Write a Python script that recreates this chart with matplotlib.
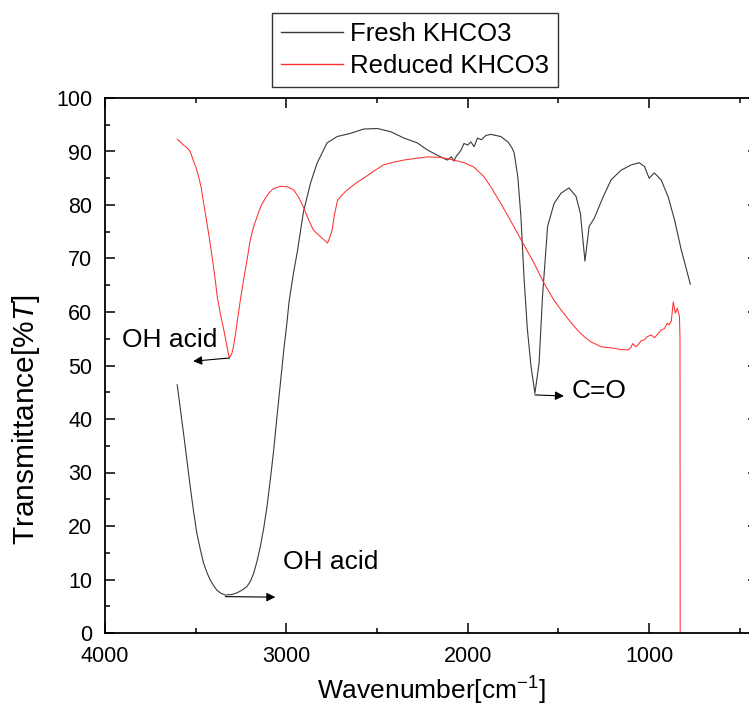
import matplotlib
matplotlib.use("Agg")
import matplotlib.pyplot as plt
from matplotlib.ticker import MultipleLocator

plt.rcParams['font.family'] = ['Liberation Sans', 'DejaVu Sans']
plt.rcParams['mathtext.fontset'] = 'custom'
plt.rcParams['mathtext.rm'] = 'Liberation Sans'
plt.rcParams['mathtext.it'] = 'Liberation Sans:italic'
plt.rcParams['mathtext.default'] = 'regular'

# FTIR spectrum of fresh KHCO3 (wavenumber in cm-1, transmittance in %T)
fresh_wn = [3602, 3585, 3567, 3548, 3530, 3512, 3494, 3475, 3457, 3438, 3420,
            3400, 3383, 3360, 3337, 3300, 3273, 3245, 3217, 3198, 3180, 3162,
            3144, 3125, 3107, 3088, 3070, 3052, 3033, 3015, 2997, 2985, 2960,
            2941, 2906, 2867, 2831, 2776, 2720, 2646, 2573, 2499, 2425, 2351,
            2278, 2223, 2168, 2113, 2090, 2077, 2062, 2049, 2035, 2021, 2000,
            1983, 1965, 1947, 1925, 1900, 1873, 1818, 1779, 1755, 1744, 1724,
            1707, 1690, 1672, 1652, 1630, 1607, 1588, 1560, 1524, 1486, 1442,
            1403, 1379, 1354, 1331, 1303, 1254, 1210, 1155, 1099, 1055, 1026,
            1000, 972, 934, 895, 860, 823, 773]
fresh_t = [46.4, 42.0, 37.3, 32.2, 27.3, 22.8, 18.7, 15.7, 13.1, 11.3, 9.9,
           8.8, 8.0, 7.4, 7.1, 7.2, 7.5, 8.0, 8.7, 9.7, 11.2, 13.4,
           16.1, 19.6, 23.6, 28.8, 34.2, 40.4, 46.7, 52.7, 58.0, 62.0, 67.5,
           71.0, 78.7, 84.1, 87.8, 91.6, 92.8, 93.4, 94.2, 94.3, 93.7, 92.5,
           91.6, 90.3, 89.3, 88.4, 89.0, 88.2, 89.2, 89.7, 90.4, 91.5, 91.2,
           91.8, 90.9, 92.5, 92.2, 93.0, 93.2, 92.8, 91.8, 90.6, 89.7, 85.2,
           77.8, 66.5, 57.0, 50.0, 44.8, 50.4, 62.9, 76.0, 80.3, 82.2, 83.2,
           81.6, 78.4, 69.5, 76.0, 77.5, 81.5, 84.7, 86.5, 87.5, 87.9, 87.2,
           85.0, 86.0, 84.7, 81.5, 77.2, 71.6, 65.2]

# FTIR spectrum of reduced KHCO3
reduced_wn = [3602, 3585, 3567, 3548, 3530, 3514, 3498, 3484, 3470, 3459, 3444,
              3429, 3415, 3402, 3390, 3381, 3363, 3346, 3330, 3315, 3300, 3292,
              3280, 3270, 3262, 3254, 3235, 3217, 3199, 3180, 3162, 3140, 3116,
              3092, 3070, 3030, 2994, 2959, 2930, 2906, 2877, 2851, 2810, 2773,
              2760, 2748, 2735, 2718, 2690, 2665, 2620, 2575, 2520, 2464, 2410,
              2352, 2290, 2221, 2149, 2077, 2020, 1967, 1911, 1873, 1818, 1751,
              1690, 1634, 1580, 1525, 1486, 1440, 1395, 1355, 1320, 1265, 1210,
              1160, 1116, 1100, 1091, 1075, 1063, 1045, 1026, 1010, 989, 970,
              950, 935, 916, 900, 890, 878, 867, 856, 845, 833, 830, 829]
reduced_t = [92.3, 91.8, 91.2, 90.7, 90.0, 88.4, 87.0, 85.3, 83.3, 80.9, 77.9,
             74.7, 71.6, 68.5, 65.4, 62.8, 59.5, 56.8, 54.0, 51.4, 52.3, 53.5,
             56.0, 58.5, 60.3, 62.2, 66.2, 69.7, 73.5, 76.0, 77.8, 79.8, 81.3,
             82.4, 83.1, 83.5, 83.4, 82.8, 81.3, 79.6, 77.2, 75.3, 74.0, 72.9,
             74.0, 75.3, 78.2, 80.9, 82.0, 82.8, 84.0, 85.0, 86.3, 87.5, 88.0,
             88.4, 88.7, 89.0, 88.9, 88.4, 87.9, 87.1, 85.3, 83.4, 80.3, 76.3,
             72.5, 69.1, 65.4, 62.2, 60.4, 58.4, 56.6, 55.3, 54.4, 53.5, 53.3,
             53.0, 52.9, 53.4, 54.1, 53.5, 53.8, 54.6, 54.8, 55.4, 55.7, 55.2,
             56.0, 56.6, 56.9, 57.9, 57.6, 58.3, 61.9, 59.8, 60.7, 59.2, 55.0,
             0.0]

x_ticks = [4000, 3000, 2000, 1000]
y_ticks = [0, 10, 20, 30, 40, 50, 60, 70, 80, 90, 100]

fig = plt.figure(figsize=(7.49, 7.13), dpi=100)
ax = fig.add_axes([105 / 749, 80 / 713, 653 / 749, 535 / 713])

ax.plot(fresh_wn, fresh_t, color='#3a3a3a', lw=0.8, label='Fresh KHCO3')
ax.plot(reduced_wn, reduced_t, color='#ff3030', lw=0.75, label='Reduced KHCO3')

ax.set_xlim(4000, 400)
ax.set_ylim(0, 100)
ax.set_xticks(x_ticks)
ax.set_yticks(y_ticks)
ax.xaxis.set_minor_locator(MultipleLocator(500))
ax.yaxis.set_minor_locator(MultipleLocator(5))
ax.tick_params(which='both', direction='in', top=True, right=True,
               width=1.1, labelsize=15.5, pad=9)
ax.tick_params(which='major', length=7.5)
ax.tick_params(which='minor', length=3.8)
for s in ax.spines.values():
    s.set_linewidth(1.3)

ax.set_xlabel('Wavenumber[cm$^{-1}$]', fontsize=19, labelpad=6)
ax.set_ylabel('Transmittance[%$\\mathit{T}$]', fontsize=21.5, labelpad=10)
ax.yaxis.set_label_coords(-0.096, 0.398)

arrow = dict(arrowstyle='-|>', color='black', lw=0.8, mutation_scale=13,
             shrinkA=0, shrinkB=0)
ax.annotate('', xy=(3514, 50.8), xytext=(3315, 51.4), arrowprops=arrow)
ax.text(3906, 54.8, 'OH acid', fontsize=19, va='center', ha='left')
ax.annotate('', xy=(3061, 6.7), xytext=(3337, 6.8), arrowprops=arrow)
ax.text(3017, 13.3, 'OH acid', fontsize=19, va='center', ha='left')
ax.annotate('', xy=(1470, 44.3), xytext=(1630, 44.5), arrowprops=arrow)
ax.text(1425, 45.2, 'C=O', fontsize=19, va='center', ha='left')

leg = fig.legend(loc='upper left', bbox_to_anchor=(272 / 749, 1 - 13 / 713),
                 fontsize=18.5, frameon=True, fancybox=False,
                 handlelength=2.4, handletextpad=0.3, labelspacing=0.3,
                 borderpad=0.35, borderaxespad=0)
leg.get_frame().set_edgecolor('black')
leg.get_frame().set_linewidth(1.0)
for h in leg.get_lines():
    h.set_linewidth(1.0)

fig.savefig('out.png', dpi=100)
